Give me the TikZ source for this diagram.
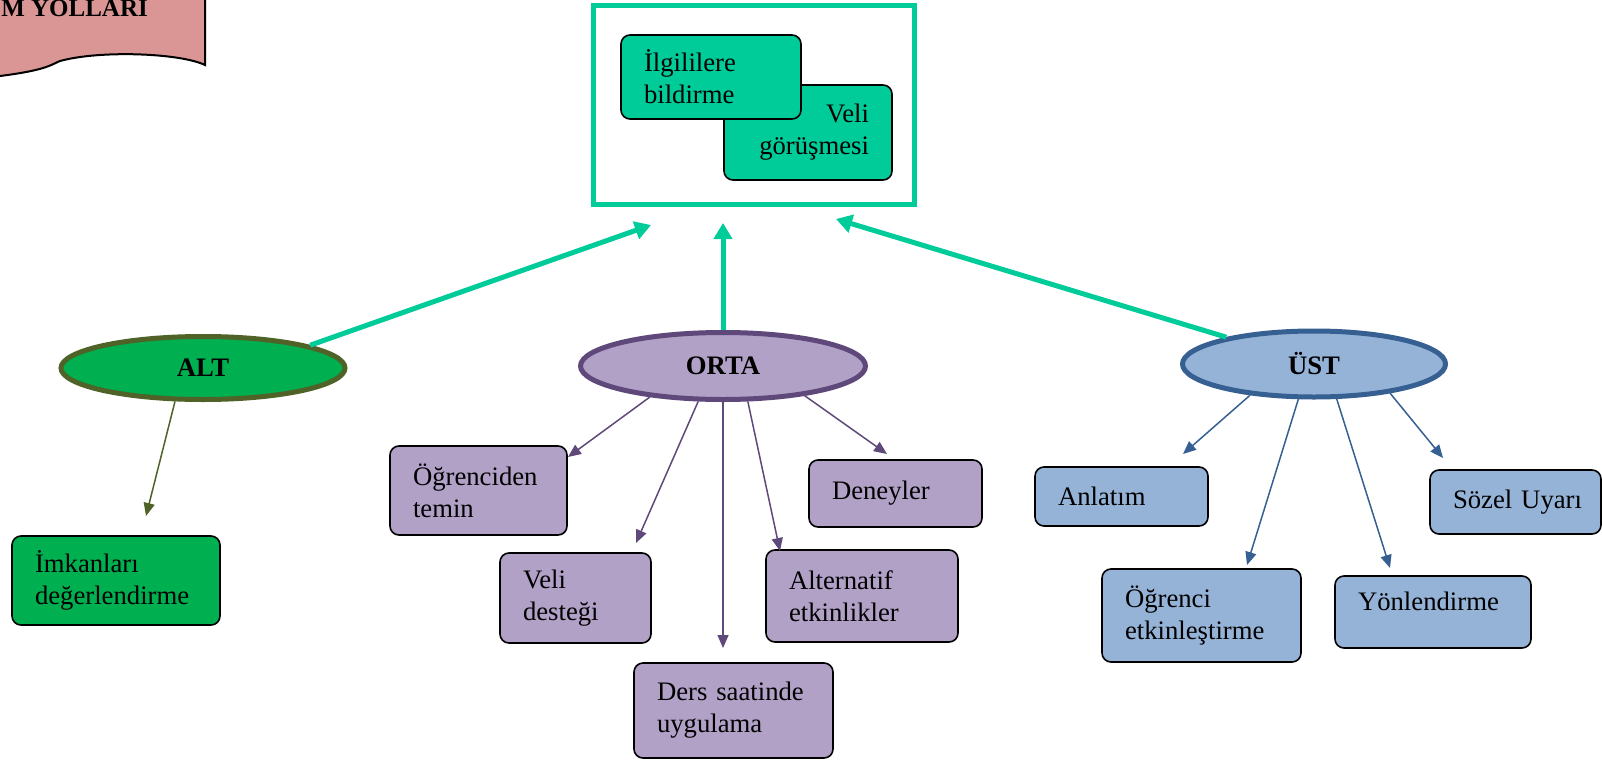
\documentclass[tikz,border=0pt]{standalone}
\usepackage{fontspec}
\setmainfont{Liberation Serif}
\usetikzlibrary{shapes.geometric,arrows.meta}
\definecolor{cbanner}{HTML}{D99694}
\definecolor{cteal}{HTML}{00CC99}
\definecolor{cgreen}{HTML}{00B050}
\definecolor{colive}{HTML}{4F6228}
\definecolor{cpurple}{HTML}{B2A1C7}
\definecolor{cpurpled}{HTML}{5F497A}
\definecolor{cblue}{HTML}{95B3D7}
\definecolor{cblued}{HTML}{376092}
\begin{document}
\begin{tikzpicture}[x=1pt,y=-1pt,
  every node/.style={font=\fontsize{26.7}{32}\selectfont},
  box/.style={draw=black, line width=1.6pt, rounded corners=9pt,
    inner xsep=23pt, inner ysep=0pt, align=left},
  level/.style={ellipse, line width=5pt, inner sep=0pt,
    font=\fontsize{26.7}{32}\selectfont\bfseries},
  sub/.style={line width=1.5pt, -{Triangle[length=13pt,width=11pt]}},
  uparrow/.style={draw=cteal, line width=5pt, -{Triangle[length=16pt,width=18pt]}}
]
\useasboundingbox (0,0) rectangle (1602,760);
\clip (0,0) rectangle (1602,760);
\fill[white] (0,0) rectangle (1602,760);

% title banner (top left)
\fill[cbanner] (-10,-10) -- (205,-10) -- (205,65)
  .. controls (180,53) and (100,50) .. (60,61)
  .. controls (52,64) and (48,70) .. (0,76) -- (-10,77) -- cycle;
\draw[line width=2pt] (205,-10) -- (205,65)
  .. controls (180,53) and (100,50) .. (60,61)
  .. controls (52,64) and (48,70) .. (0,76) -- (-10,77);
\node[font=\fontsize{25}{30}\selectfont\bfseries, anchor=base east, inner sep=0pt]
  (title) at (148,17) {M YOLLARI};

% top frame with the two measures
\node[draw=cteal, line width=5pt, minimum width=321pt, minimum height=198.5pt, inner sep=0pt]
  (frame) at (753.5,104.75) {};
\node[box, fill=cteal, align=right, text width=122pt, minimum height=95pt]
  (vgor) at (808,132.5) {Veli\\görüşmesi};
\node[box, fill=cteal, text width=134pt, minimum height=84pt]
  (ilg) at (711,77) {İlgililere\\bildirme};

% three levels
\node[level, draw=colive, fill=cgreen, minimum width=284pt, minimum height=63pt]
  (alt) at (203,368) {ALT};
\node[level, draw=cpurpled, fill=cpurple, minimum width=285pt, minimum height=67pt]
  (orta) at (723,366) {ORTA};
\node[level, draw=cblued, fill=cblue, minimum width=263pt, minimum height=66pt]
  (ust) at (1314,364) {ÜST};

% arrows up to the frame
\coordinate (tA) at (651,225);
\coordinate (tO) at (723,223);
\coordinate (tU) at (836,219);
\draw[uparrow] (alt.12) -- (tA);
\draw[uparrow] (orta.north) -- (tO);
\draw[uparrow] (ust.163) -- (tU);

% ALT branch
\node[box, fill=cgreen, text width=162pt, minimum height=89pt]
  (imk) at (116,580.5) {İmkanları\\değerlendirme};
\coordinate (eImk) at (146,516);
\draw[sub, colive] (alt.230) -- (eImk);

% ORTA branch
\node[box, fill=cpurple, text width=131pt, minimum height=89pt]
  (ogr) at (478.5,490.5) {Öğrenciden\\temin};
\node[box, fill=cpurple, text width=105pt, minimum height=90pt]
  (vel) at (575.5,598) {Veli\\desteği};
\node[box, fill=cpurple, text width=153pt, minimum height=95pt]
  (der) at (733.5,710.5) {\mbox{Ders saatinde}\\uygulama};
\node[box, fill=cpurple, text width=146pt, minimum height=92pt]
  (alte) at (862,596) {Alternatif\\etkinlikler};
\node[box, fill=cpurple, text width=127pt, minimum height=67pt]
  (den) at (895.5,493.5) {Deneyler};
\coordinate (eOgr) at (568,457);
\coordinate (eVel) at (636,543);
\coordinate (eDer) at (723,648);
\coordinate (eAlt) at (780,551);
\coordinate (eDen) at (887,454);
\draw[sub, cpurpled] (orta.203) -- (eOgr);
\draw[sub, cpurpled] (orta.235) -- (eVel);
\draw[sub, cpurpled] (orta.south) -- (eDer);
\draw[sub, cpurpled] (orta.305) -- (eAlt);
\draw[sub, cpurpled] (orta.340) -- (eDen);

% UST branch
\node[box, fill=cblue, text width=127pt, minimum height=59pt]
  (anl) at (1121.5,496.5) {Anlatım};
\node[box, fill=cblue, text width=153pt, minimum height=93pt]
  (oet) at (1201.5,615.5) {Öğrenci\\etkinleştirme};
\node[box, fill=cblue, text width=150pt, minimum height=72pt, text depth=22pt]
  (yon) at (1433,612) {Yönlendirme};
\node[box, fill=cblue, text width=125pt, minimum height=64pt]
  (soz) at (1515.5,502) {\mbox{Sözel Uyarı}};
\coordinate (eAnl) at (1183,454);
\coordinate (eOet) at (1247,565);
\coordinate (eYon) at (1390,568);
\coordinate (eSoz) at (1443,458);
\draw[sub, cblued] (ust.206) -- (eAnl);
\draw[sub, cblued] (ust.246) -- (eOet);
\draw[sub, cblued] (ust.303) -- (eYon);
\draw[sub, cblued] (ust.339) -- (eSoz);
\end{tikzpicture}
\end{document}
